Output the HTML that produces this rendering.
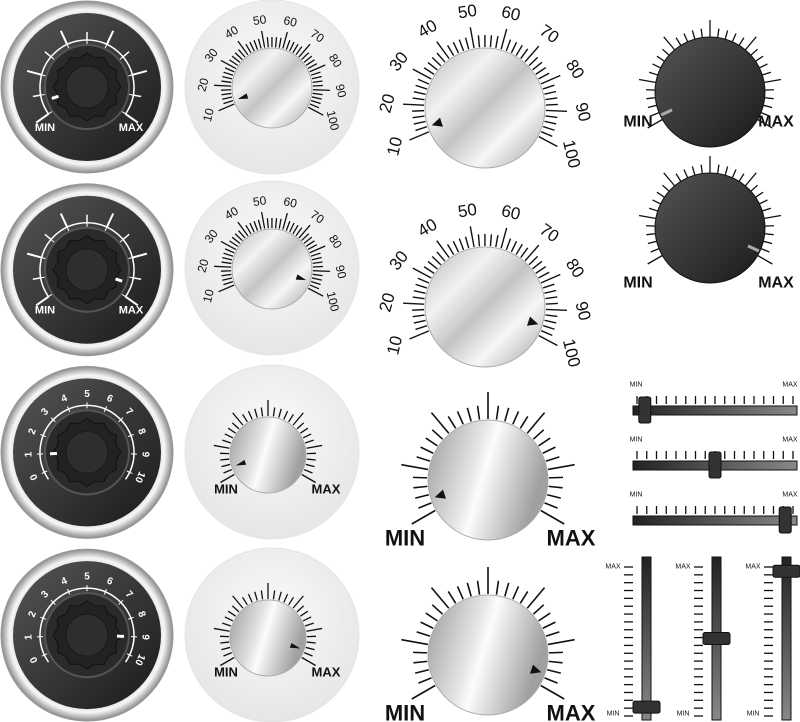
<!DOCTYPE html>
<html><head><meta charset="utf-8"><style>
html,body{margin:0;padding:0;background:#fff;width:800px;height:722px;overflow:hidden}
svg{display:block;font-family:"Liberation Sans",sans-serif}
</style></head><body>
<svg id="s" width="800" height="722" viewBox="0 0 800 722">
<defs>
<radialGradient id="bezel" cx="50%" cy="50%" r="50%"><stop offset="80%" stop-color="#d8d8d8"/><stop offset="90%" stop-color="#f6f6f6"/><stop offset="100%" stop-color="#8a8a8a"/></radialGradient>
<linearGradient id="dark" x1="0" y1="0" x2="1" y2="1"><stop offset="0" stop-color="#555"/><stop offset="1" stop-color="#1a1a1a"/></linearGradient>
<radialGradient id="plate" cx="50%" cy="40%" r="60%"><stop offset="0" stop-color="#fafafa"/><stop offset="1" stop-color="#e6e6e6"/></radialGradient>
<linearGradient id="metal" x1="0" y1="0" x2="1" y2="1"><stop offset="0" stop-color="#b8b8b8"/><stop offset="0.3" stop-color="#f2f2f2"/><stop offset="0.5" stop-color="#c4c4c4"/><stop offset="0.7" stop-color="#f6f6f6"/><stop offset="1" stop-color="#a0a0a0"/></linearGradient>
<linearGradient id="metal2" x1="0" y1="0" x2="1" y2="0.3"><stop offset="0" stop-color="#9a9a9a"/><stop offset="0.45" stop-color="#e6e6e6"/><stop offset="0.55" stop-color="#fcfcfc"/><stop offset="1" stop-color="#a0a0a0"/></linearGradient>
<linearGradient id="track" x1="0" y1="0" x2="1" y2="0"><stop offset="0" stop-color="#222"/><stop offset="1" stop-color="#888"/></linearGradient>
<linearGradient id="vtrack" x1="0" y1="0" x2="0" y2="1"><stop offset="0" stop-color="#222"/><stop offset="1" stop-color="#888"/></linearGradient>
</defs>
</svg>
<script>
const darkValues=[0.05,0.95,0.1,0.9];
const plateValues=[0.05,0.95,0.05,0.95];
const bigValues=[0.05,0.95,0.05,0.95];
const blackValues=[0.02,0.98];
const hSliderValues=[0.05,0.5,0.95];
const vSliderValues=[0.02,0.5,0.97];
const numLabels=["10","20","30","40","50","60","70","80","90","100"];
const digitLabels=["0","1","2","3","4","5","6","7","8","9","10"];

const S=document.getElementById('s');
const NS='http://www.w3.org/2000/svg';
function el(tag,attrs,parent,name){const e=document.createElementNS(NS,tag);for(const k in attrs)e.setAttribute(k,attrs[k]);


(parent||S).appendChild(e);return e;}
function pol(cx,cy,r,deg){const a=(deg-90)*Math.PI/180;return [cx+r*Math.cos(a),cy+r*Math.sin(a)];}
function tick(g,cx,cy,r1,r2,deg,col,w){const p=pol(cx,cy,r1,deg),q=pol(cx,cy,r2,deg);el('line',{x1:p[0],y1:p[1],x2:q[0],y2:q[1],stroke:col,'stroke-width':w},g,'tick');}
function txt(g,x,y,s,size,col,rot,name){const t=el('text',{x:x,y:y,'font-size':size,fill:col,'text-anchor':'middle','dominant-baseline':'central','font-weight':'bold',transform:rot!=null?`rotate(${rot} ${x} ${y})`:''},g,name||'label');t.textContent=s;return t;}
function lrot(d){return Math.max(-90,Math.min(90,d))*0.85;}
const A0=-120,A1=120;
function ang(v){return A0+(A1-A0)*v;}
function pointer(g,cx,cy,r,v){const d=ang(v);const p=pol(cx,cy,r-4,d),a=pol(cx,cy,r-14,d-6),b=pol(cx,cy,r-14,d+6);
el('polygon',{points:`${p} ${a} ${b}`,fill:'#111'},g,'pointer');}

darkValues.forEach((v,i)=>{const cx=87,cy=87+i*182.7;const g=el('g',{},S,'dark-knob-'+(i+1));
el('circle',{cx,cy,r:86,fill:'url(#bezel)',stroke:'#999','stroke-width':1},g,'bezel');
el('circle',{cx,cy,r:74,fill:'url(#dark)'},g,'dark-face');
const arc=(()=>{const p=pol(cx,cy,47,-125),q=pol(cx,cy,47,125);return `M${p} A47 47 0 1 1 ${q}`;})();
el('path',{d:arc,fill:'none',stroke:'#fff','stroke-width':1.5},g,'scale-arc');
if(i<2){
 for(let k=0;k<=10;k++){const d=-125+25*k;tick(g,cx,cy,47,k%2?55:62,d,'#fff',k%2?1.5:2);tick(g,cx,cy,42,47,d,'#fff',1);}
 txt(g,cx-42,cy+41,'MIN',11,'#fff',null,'min-label');txt(g,cx+44,cy+41,'MAX',11,'#fff',null,'max-label');
}else{
 digitLabels.forEach((s,k)=>{const d=-115+23*k;tick(g,cx,cy,44,50,d,'#fff',1);const p=pol(cx,cy,58,d);txt(g,p[0],p[1],s,10,'#fff',d,'digit-label');});
}
el('circle',{cx,cy,r:42,fill:'#2a2a2a',stroke:'#555','stroke-width':2},g,'knob-ring');
let pts=[];for(let k=0;k<24;k++){const p=pol(cx,cy,k%2?30:34,k*15);pts.push(p.join(','));}
el('polygon',{points:pts.join(' '),fill:'#222',stroke:'#111'},g,'knob-grip');
el('circle',{cx,cy,r:21,fill:'#2e2e2e',stroke:'#1a1a1a'},g,'knob-cap');
const d=i<2?ang(v):-115+230*v;const p=pol(cx,cy,30,d),q=pol(cx,cy,37,d);
el('line',{x1:p[0],y1:p[1],x2:q[0],y2:q[1],stroke:'#fff','stroke-width':3},g,'indicator');
});

plateValues.forEach((v,i)=>{const cx=272,cy=[87,268,452,635][i];const g=el('g',{},S,'plate-knob-'+(i+1));
el('circle',{cx,cy,r:87,fill:'url(#plate)',stroke:'#e4e4e4'},g,'plate');
let kr;
if(i<2){kr=40;const kcx=cx,kcy=cy+1;
 for(let k=0;k<=45;k++){const d=-113+k*(231/45);tick(g,kcx,kcy,41,k%5?51:58,d,'#111',1.3);}
 numLabels.forEach((s,k)=>{const d=-113+k*25.67;const p=pol(kcx,kcy,69,d);txt(g,p[0],p[1],s,12,'#111',lrot(d),'scale-number').setAttribute('font-weight','normal');});
 el('circle',{cx:kcx,cy:kcy,r:kr,fill:'url(#metal)',stroke:'#aaa'},g,'metal-knob');pointer(g,kcx,kcy,kr,v);
}else{kr=38;const kcx=cx-4,kcy=cy+3;
 for(let k=0;k<=30;k++){const d=-120+k*8;tick(g,kcx,kcy,39,k%5?48:55,d,'#111',1.3);}
 el('circle',{cx:kcx,cy:kcy,r:kr,fill:'url(#metal2)',stroke:'#aaa'},g,'metal-knob');pointer(g,kcx,kcy,kr,v);
 txt(g,cx-46,cy+37,'MIN',13,'#111',null,'min-label');txt(g,cx+54,cy+37,'MAX',13,'#111',null,'max-label');}
});

bigValues.forEach((v,i)=>{const cx=i<2?485:488,cy=[108,307,480,655][i];const g=el('g',{},S,'big-knob-'+(i+1));
const r=60;
if(i<2){for(let k=0;k<=45;k++){const d=-113+k*(231/45);tick(g,cx,cy,61,k%5?73:82,d,'#111',1.4);}
 numLabels.forEach((s,k)=>{const d=-113+k*25.67;const p=pol(cx,cy,98,d);txt(g,p[0],p[1],s,17,'#111',lrot(d),'scale-number').setAttribute('font-weight','normal');});
 el('circle',{cx,cy,r,fill:'url(#metal)',stroke:'#aaa'},g,'metal-knob');
}else{for(let k=0;k<=30;k++){const d=-120+k*8;tick(g,cx,cy,61,k%5?75:88,d,'#111',1.6);}
 el('circle',{cx,cy,r,fill:'url(#metal2)',stroke:'#aaa'},g,'metal-knob');
 txt(g,cx-83,cy+58,'MIN',22,'#111',null,'min-label');txt(g,cx+83,cy+58,'MAX',22,'#111',null,'max-label');}
pointer(g,cx,cy,r,v);
});

blackValues.forEach((v,i)=>{const cx=710,cy=[92,228][i];const g=el('g',{},S,'black-knob-'+(i+1));
for(let k=0;k<=30;k++){const d=-120+k*8;tick(g,cx,cy,54,k%5?64:72,d,'#111',1.3);}
el('circle',{cx,cy,r:55,fill:'url(#dark)',stroke:'#111'},g,'black-knob');
const d=ang(v);const p=pol(cx,cy,42,d),q=pol(cx,cy,54,d);
el('line',{x1:p[0],y1:p[1],x2:q[0],y2:q[1],stroke:'#aaa','stroke-width':3},g,'indicator');
txt(g,cx-72,cy+[30,55][i],'MIN',16,'#111',null,'min-label');txt(g,cx+66,cy+[30,55][i],'MAX',16,'#111',null,'max-label');
});

hSliderValues.forEach((v,i)=>{const y=410+i*55;const x0=633,x1=797;const g=el('g',{},S,'h-slider-'+(i+1));
for(let k=0;k<17;k++){const x=x0+4+k*(x1-x0-8)/16;el('line',{x1:x,y1:y-14,x2:x,y2:y-6,stroke:'#111','stroke-width':1.3},g,'tick');}
el('rect',{x:x0,y:y-4,width:x1-x0,height:9,fill:'url(#track)',stroke:'#111'},g,'track');
const kx=x0+4+v*(x1-x0-8);
const h=el('rect',{x:kx-6,y:y-13,width:12,height:26,rx:2,fill:'#333',stroke:'#111'},g,'slider-handle');
const a=txt(g,x0+3,y-25,'MIN',7,'#111',null,'min-label');a.setAttribute('font-weight','normal');
const b=txt(g,x1-7,y-25,'MAX',7,'#111',null,'max-label');b.setAttribute('font-weight','normal');
});

vSliderValues.forEach((v,i)=>{const x=[646,716,786][i];const y0=557,y1=720;const g=el('g',{},S,'v-slider-'+(i+1));
for(let k=0;k<20;k++){const y=y0+10+k*(y1-y0-14)/19;el('line',{x1:x-22,y1:y,x2:x-13,y2:y,stroke:'#111','stroke-width':1.3},g,'tick');}
el('rect',{x:x-4,y:y0,width:9,height:y1-y0,fill:'url(#vtrack)',stroke:'#111'},g,'track');
const ky=y1-10-v*(y1-y0-20);
const h=el('rect',{x:x-13,y:ky-6,width:27,height:12,rx:2,fill:'#333',stroke:'#111'},g,'slider-handle');
const a=txt(g,x-33,y0+10,'MAX',7,'#111',null,'max-label');a.setAttribute('font-weight','normal');
const b=txt(g,x-33,y1-6,'MIN',7,'#111',null,'min-label');b.setAttribute('font-weight','normal');
});
</script>
</body></html>
